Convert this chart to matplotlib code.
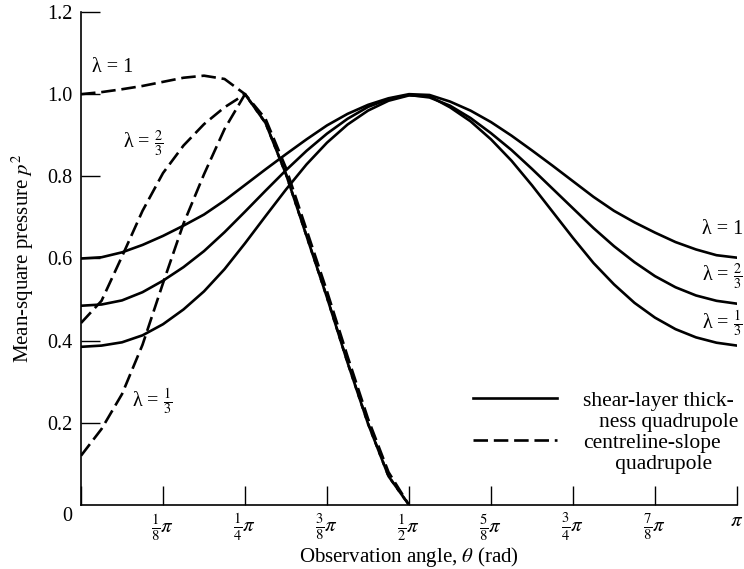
import numpy as np
import matplotlib.pyplot as plt
from matplotlib.lines import Line2D

plt.rcParams['font.family'] = ['Liberation Serif', 'DejaVu Serif']
plt.rcParams['mathtext.fontset'] = 'stix'

# observation angle in units of pi
theta_solid = np.linspace(0, 1, 33)
theta_dash = np.linspace(0, 0.5, 17)

# shear-layer thickness quadrupole (solid)
shear_l1 = [0.600, 0.603, 0.615, 0.633, 0.655, 0.680, 0.707, 0.741, 0.779, 0.817, 0.854,
            0.890, 0.924, 0.952, 0.974, 0.990, 1.000, 0.998, 0.982, 0.960, 0.932, 0.899,
            0.863, 0.826, 0.788, 0.750, 0.716, 0.688, 0.663, 0.640, 0.622, 0.608, 0.602]
shear_l23 = [0.485, 0.488, 0.498, 0.518, 0.546, 0.579, 0.618, 0.664, 0.714, 0.765, 0.815,
             0.862, 0.904, 0.940, 0.969, 0.988, 0.998, 0.992, 0.972, 0.942, 0.905, 0.864,
             0.818, 0.770, 0.722, 0.674, 0.630, 0.591, 0.557, 0.530, 0.510, 0.497, 0.490]
shear_l13 = [0.385, 0.388, 0.396, 0.413, 0.440, 0.476, 0.520, 0.574, 0.637, 0.703, 0.768,
             0.829, 0.882, 0.926, 0.960, 0.984, 0.997, 0.995, 0.968, 0.934, 0.890, 0.838,
             0.778, 0.714, 0.650, 0.589, 0.537, 0.492, 0.456, 0.428, 0.408, 0.395, 0.388]

# centreline-slope quadrupole (dashed)
slope_l1 = [1.000, 1.005, 1.012, 1.020, 1.030, 1.040, 1.045, 1.037, 1.000,
            0.940, 0.820, 0.670, 0.520, 0.362, 0.210, 0.080, 0.000]
slope_l23 = [0.443, 0.497, 0.605, 0.716, 0.808, 0.875, 0.927, 0.968, 1.000,
             0.930, 0.805, 0.655, 0.505, 0.347, 0.198, 0.070, 0.000]
slope_l13 = [0.120, 0.185, 0.270, 0.390, 0.540, 0.685, 0.805, 0.915, 1.000,
             0.930, 0.805, 0.655, 0.505, 0.347, 0.198, 0.070, 0.000]

xtick_pos = [0, 1/8, 1/4, 3/8, 1/2, 5/8, 3/4, 7/8, 1]
xtick_lab = ['', r'$\frac{1}{8}\pi$', r'$\frac{1}{4}\pi$', r'$\frac{3}{8}\pi$', r'$\frac{1}{2}\pi$',
             r'$\frac{5}{8}\pi$', r'$\frac{3}{4}\pi$', r'$\frac{7}{8}\pi$', r'$\pi$']
ytick_pos = [0.2, 0.4, 0.6, 0.8, 1.0, 1.2]
ytick_lab = ['0.2', '0.4', '0.6', '0.8', '1.0', '1.2']

fig = plt.figure(figsize=(7.44, 5.69), dpi=100)
ax = fig.add_axes([0.1089, 0.1125, 0.8817, 0.8664])

lw = 1.9
dash = (0, (5.5, 2.2))
for vals in [shear_l1, shear_l23, shear_l13]:
    ax.plot(theta_solid * np.pi, vals, color='black', lw=lw, solid_joinstyle='round')
for vals in [slope_l1, slope_l23, slope_l13]:
    ax.plot(theta_dash * np.pi, vals, color='black', lw=lw, linestyle=dash)

ax.set_xlim(0, np.pi)
ax.set_ylim(0, 1.2)
ax.spines['top'].set_visible(False)
ax.spines['right'].set_visible(False)
for s in ['left', 'bottom']:
    ax.spines[s].set_linewidth(1.2)

ax.set_xticks([p * np.pi for p in xtick_pos])
ax.set_xticklabels(xtick_lab)
ax.set_yticks(ytick_pos)
ax.set_yticklabels(ytick_lab)
ax.tick_params(direction='in', length=14, width=1.0, pad=6, labelsize=14.5)
ax.tick_params(axis='x', labelsize=15, pad=5)
ax.text(-0.014, -0.024, '0', transform=ax.transAxes, ha='right', va='center', fontsize=14.5)

ax.set_xlabel(r'Observation angle, $\theta$ (rad)', fontsize=15, labelpad=1)
ax.set_ylabel(r'Mean-square pressure $p^2$', fontsize=15, labelpad=8)

# curve labels
fs = 14.5
ax.text(0.017 * np.pi, 1.066, 'λ = 1', fontsize=fs, va='center')
ax.text(0.064 * np.pi, 0.878, r'λ = $\frac{2}{3}$', fontsize=fs, va='center')
ax.text(0.078 * np.pi, 0.251, r'λ = $\frac{1}{3}$', fontsize=fs, va='center')
ax.text(0.947 * np.pi, 0.67, 'λ = 1', fontsize=fs, va='center', clip_on=False)
ax.text(0.947 * np.pi, 0.556, r'λ = $\frac{2}{3}$', fontsize=fs, va='center', clip_on=False)
ax.text(0.947 * np.pi, 0.441, r'λ = $\frac{1}{3}$', fontsize=fs, va='center', clip_on=False)

handles = [Line2D([], [], color='black', lw=lw),
           Line2D([], [], linestyle='none'),
           Line2D([], [], color='black', lw=lw, linestyle=dash),
           Line2D([], [], linestyle='none')]
labels = ['shear-layer thick-', '   ness quadrupole', 'centreline-slope', '      quadrupole']
ax.legend(handles, labels, loc='upper left', bbox_to_anchor=(0.598, 0.232), frameon=False,
          fontsize=15.5, handlelength=3.9, handletextpad=1.2, labelspacing=0.05,
          borderpad=0, borderaxespad=0)

fig.savefig('out.png', dpi=100)
